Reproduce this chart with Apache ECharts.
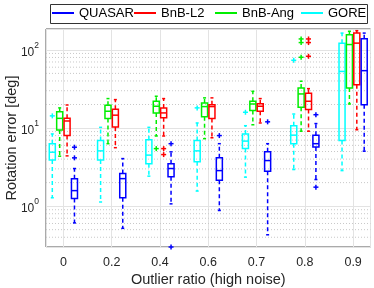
<!DOCTYPE html>
<html><head><meta charset="utf-8">
<script src="https://cdn.jsdelivr.net/npm/echarts@6/dist/echarts.min.js"></script>
<style>html,body{margin:0;padding:0;background:#fff}#c{width:374px;height:288px}</style>
</head><body><div id="c"></div><script>
// x tick labels (one group per outlier ratio)
const categories = ['0','0.2','0.4','0.6','0.7','0.8','0.9'];
const legendOrder = ['QUASAR','BnB-L2','BnB-Ang','GORE'];
// order of boxes inside each group (left to right)
const boxOrder = ['GORE','BnB-Ang','BnB-L2','QUASAR'];
// box stats: [low whisker, q1, median, q3, high whisker]
const gore    = [[1.28,3.9,4.9,6.3,8.4],[1.13,3.9,5.1,6.9,10.2],[2.42,3.5,4.5,7.1,10.2],[1.56,3.7,5.1,6.9,11.6],[2.35,5.45,6.8,8.4,10.7],[2.94,6.3,8.1,10.7,15.1],[2.85,6.9,53,122,164]];
const goreOut = [[14.3],[],[],[18.1],[15.9],[73.6],[]];
const bnbAng    = [[4.36,9.46,13.3,16.1,18.1],[6.3,13.2,16.4,19.6,23.8],[7.9,15.6,19.0,22.0,25.5],[7.3,13.9,18.8,20.9,24.3],[11.0,16.7,20.3,22.0,29.5],[9.1,18.5,27.3,32.6,39.7],[20.3,32.6,117,156,173]];
const bnbAngOut = [[],[],[5.45],[],[],[80.4,124,138],[]];
const bnbL2    = [[4.4,8.0,12.3,13.3,19.7],[5.6,10.3,14.6,17.4,23.1],[7.9,13.5,15.6,18.1,23.8],[7.5,13.2,18.8,19.9,24.3],[11.6,16.4,19.0,20.5,23.8],[9.1,17.2,22.0,27.9,31.9],[9.5,35.9,122,164,176]];
const bnbL2Out = [[],[],[5.45,4.57],[],[],[82.8,124,138],[]];
const quasar    = [[0.61,1.25,1.58,2.25,3.03],[0.52,1.28,2.25,2.61,4.06],[1.07,2.37,3.03,3.5,4.95],[0.88,2.15,2.85,4.15,6.3],[0.43,2.8,3.83,4.95,6.3],[2.19,5.7,6.3,8.1,11.4],[5.05,19.9,54.2,139,164]];
const quasarOut = [[4.15,5.68],[],[0.3,6.3],[8.0],[12.0],[1.75,14.8],[]];
// minor log grid values
const minorGrid = [0.4,0.5,0.6,0.7,0.8,0.9,2,3,4,5,6,7,8,9,20,30,40,50,60,70,80,90];

const stats = {GORE:gore,'BnB-Ang':bnbAng,'BnB-L2':bnbL2,QUASAR:quasar};
const outs  = {GORE:goreOut,'BnB-Ang':bnbAngOut,'BnB-L2':bnbL2Out,QUASAR:quasarOut};
const colors = {QUASAR:'#0000ff','BnB-L2':'#ff0000','BnB-Ang':'#00ee00',GORE:'#00ffff'};
const XMIN = 0.64, XMAX = 7.36, YMIN = 0.3, YMAX = 185;
const step = 0.153, boxW = 0.125;
const FONT = 'Liberation Sans';

function boxSeries(name){
  const k = boxOrder.indexOf(name);
  const off = (k - 1.5) * step;
  const c = colors[name];
  return {
    type:'custom', name, itemStyle:{color:c}, z:5,
    data: stats[name].map((s,i)=>[i+1].concat(s)),
    encode:{x:0, y:[1,2,3,4,5]},
    renderItem(params, api){
      const i = params.dataIndex;
      const x = api.value(0) + off;
      const P = v => api.coord([x, v]);
      const xc = P(1)[0];
      const xl = api.coord([x-boxW/2,1])[0], xr = api.coord([x+boxW/2,1])[0];
      const cl = api.coord([x-boxW/4,1])[0], cr = api.coord([x+boxW/4,1])[0];
      const yLo = P(api.value(1))[1], yQ1 = P(api.value(2))[1], yMd = P(api.value(3))[1], yQ3 = P(api.value(4))[1], yHi = P(api.value(5))[1];
      const ls = {stroke:c, lineWidth:1.5, fill:null};
      const ds = {stroke:c, lineWidth:1.5, fill:null, lineDash:[4,3]};
      const ch = [
        {type:'line', shape:{x1:xc,y1:yQ3,x2:xc,y2:yHi}, style:ds},
        {type:'line', shape:{x1:xc,y1:yQ1,x2:xc,y2:yLo}, style:ds},
        {type:'line', shape:{x1:cl,y1:yHi,x2:cr,y2:yHi}, style:ls},
        {type:'line', shape:{x1:cl,y1:yLo,x2:cr,y2:yLo}, style:ls},
        {type:'rect', shape:{x:xl,y:yQ3,width:xr-xl,height:yQ1-yQ3}, style:{stroke:c,lineWidth:1.5,fill:null}},
        {type:'line', shape:{x1:xl,y1:yMd,x2:xr,y2:yMd}, style:ls}
      ];
      (outs[name][i]||[]).forEach(v=>{
        const p = P(v);
        ch.push({type:'line', shape:{x1:p[0]-2.5,y1:p[1],x2:p[0]+2.5,y2:p[1]}, style:ls});
        ch.push({type:'line', shape:{x1:p[0],y1:p[1]-2.5,x2:p[0],y2:p[1]+2.5}, style:ls});
      });
      return {type:'group', children:ch};
    }
  };
}

const minorSeries = {
  type:'custom', name:'minor', silent:true, z:1,
  data: minorGrid.map(v=>[XMIN, v]),
  encode:{x:0,y:1},
  renderItem(params, api){
    const a = api.coord([XMIN, api.value(1)]), b = api.coord([XMAX, api.value(1)]);
    return {type:'line', shape:{x1:a[0],y1:a[1],x2:b[0],y2:b[1]}, style:{stroke:'#c8c8c8',lineWidth:1,lineDash:[1,2]}};
  }
};

const legendLefts = [52, 134, 215, 301];
const chart = echarts.init(document.getElementById('c'), null, {renderer:'canvas'});
chart.setOption({
  animation:false,
  backgroundColor:'#fff',
  textStyle:{fontFamily:FONT},
  grid:{left:46, top:29, right:3.5, bottom:41, show:true, borderColor:'#555', borderWidth:1, backgroundColor:'transparent', containLabel:false, outerBoundsMode:'none'},
  graphic:[{type:'rect', z:0, shape:{x:50.5,y:4.5,width:317,height:19}, style:{fill:'#fff', stroke:'#333', lineWidth:1}}],
  legend: legendOrder.map((n,i)=>({
    data:[n], left:legendLefts[i], top:6.5, padding:0, itemGap:0, itemWidth:22, itemHeight:2, icon:'rect',
    selectedMode:false, z:10, textStyle:{fontSize:13, color:'#000', fontFamily:FONT}
  })),
  xAxis:{
    type:'value', min:XMIN, max:XMAX, splitNumber:7,
    name:'Outlier ratio (high noise)', nameLocation:'middle', nameGap:25, nameMoveOverlap:false,
    nameTextStyle:{fontSize:14.5, color:'#262626', fontFamily:FONT},
    axisLine:{show:false}, axisTick:{show:false},
    axisLabel:{fontSize:12.5, color:'#262626', margin:9, showMinLabel:false, showMaxLabel:false,
      formatter:v=>{const r=Math.round(v); return Math.abs(v-r)<1e-6 && r>=1 && r<=categories.length ? categories[r-1] : '';}},
    splitLine:{show:true, lineStyle:{color:'#e3e3e3', width:1}}
  },
  yAxis:{
    type:'log', min:YMIN, max:YMAX, logBase:10,
    name:'Rotation error [deg]', nameLocation:'middle', nameGap:27, nameMoveOverlap:false,
    nameTextStyle:{fontSize:14.5, color:'#262626', fontFamily:FONT},
    axisLine:{show:false}, axisTick:{show:false},
    axisLabel:{color:'#262626', margin:7, showMinLabel:false, showMaxLabel:false,
      formatter:v=>{const e=Math.log10(v); const r=Math.round(e); return Math.abs(e-r)<1e-6 ? '{b|10}{s|'+r+'}' : '';},
      rich:{b:{fontSize:12, fontFamily:FONT, color:'#262626', verticalAlign:'bottom', lineHeight:18},
            s:{fontSize:8.5, fontFamily:FONT, color:'#262626', verticalAlign:'top', lineHeight:18}}},
    splitLine:{show:true, lineStyle:{color:'#e3e3e3', width:1}}
  },
  series:[minorSeries].concat(boxOrder.map(boxSeries))
});
</script></body></html>
